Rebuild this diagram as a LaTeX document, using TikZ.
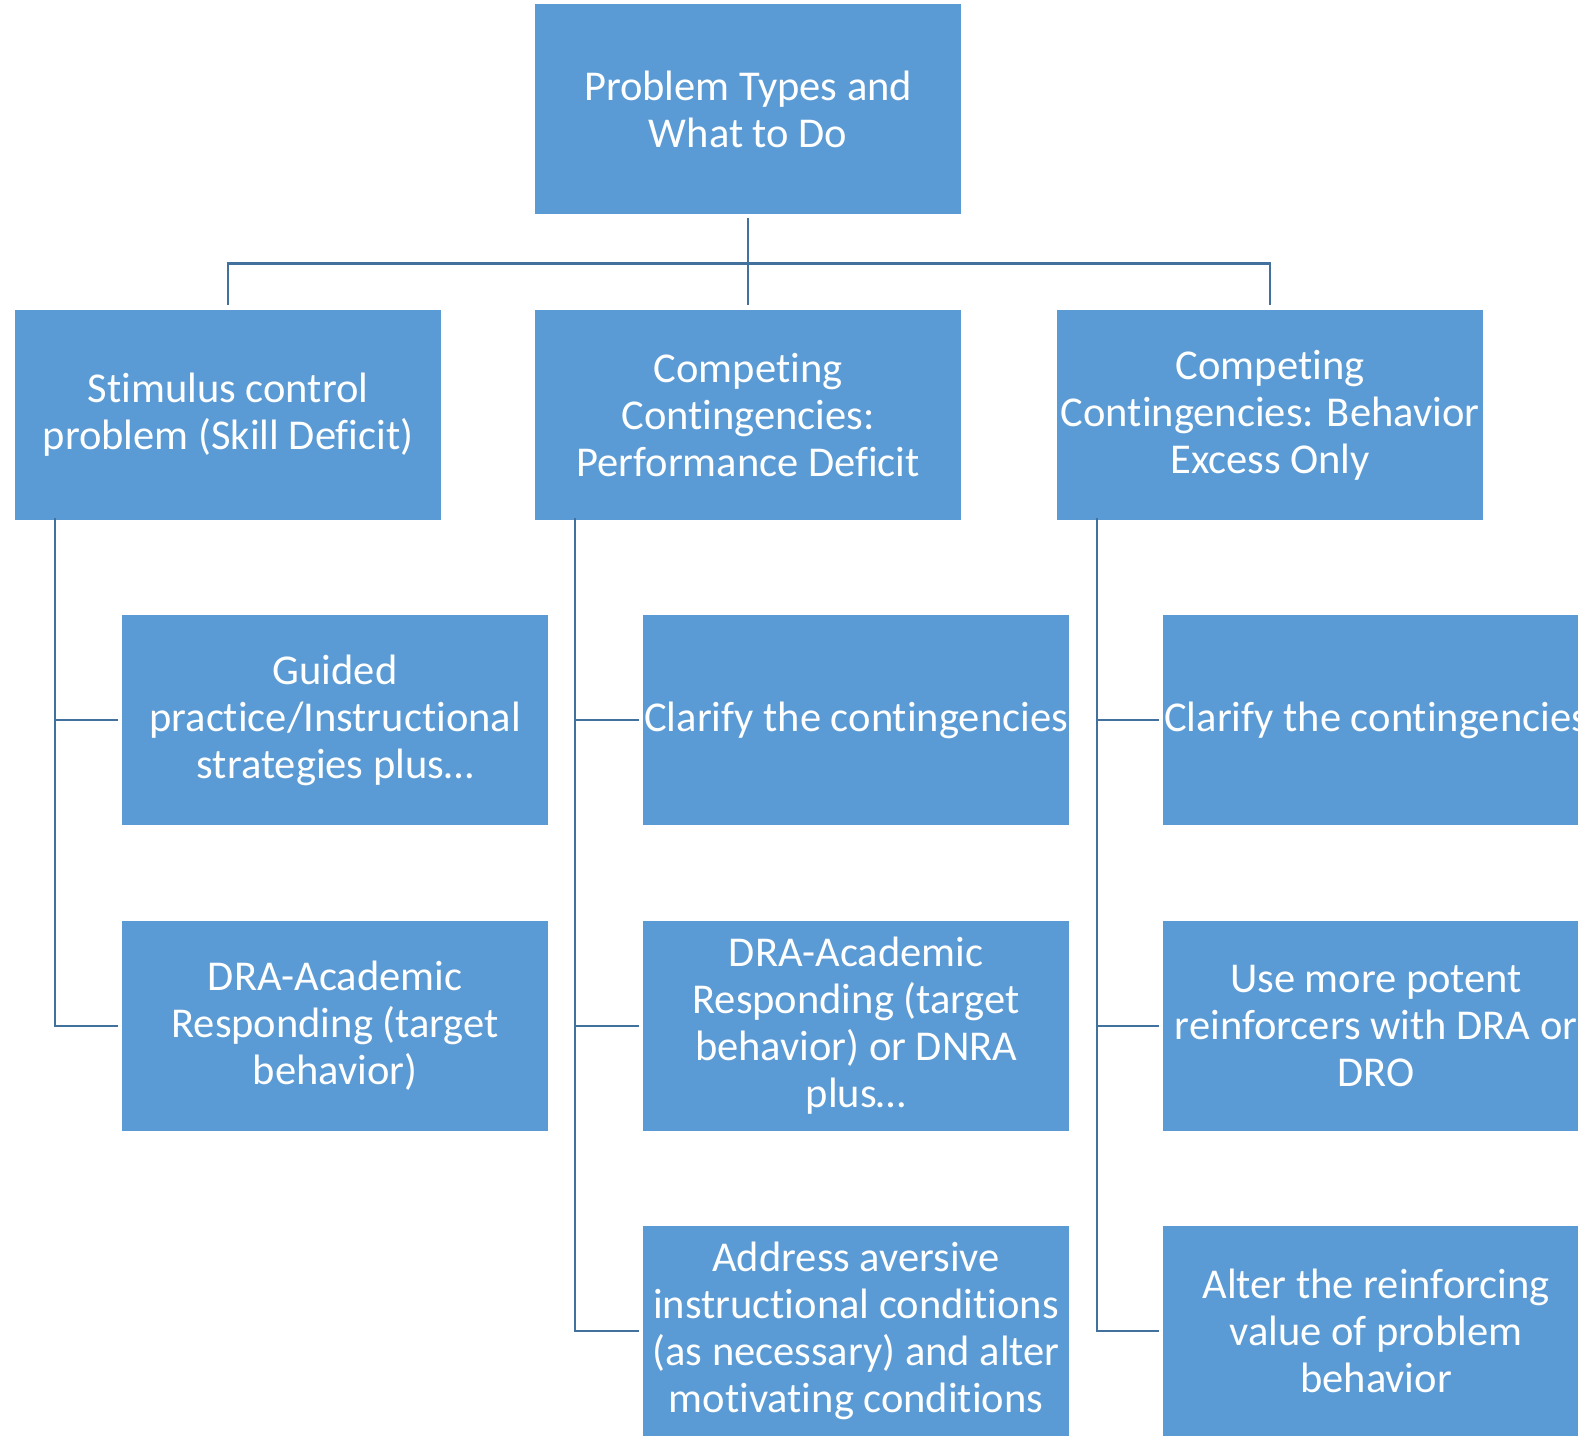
\documentclass[tikz,border=0pt]{standalone}
\usepackage{fontspec}
\setmainfont{Carlito}[Ligatures={NoCommon}]
\definecolor{boxblue}{HTML}{5B9BD5}
\definecolor{linkblue}{HTML}{41719C}
\begin{document}
\begin{tikzpicture}[x=1pt,y=-1pt,
  card/.style={fill=boxblue, draw=white, line width=1.2pt, text=white,
    minimum width=427pt, minimum height=211pt, anchor=north west,
    align=center, inner sep=0pt, font=\fontsize{42.5}{47}\selectfont},
  link/.style={draw=linkblue, line width=2.6pt},
]
\useasboundingbox (0,0) rectangle (1578,1440);
\clip (0,0) rectangle (1578,1440);

% top level
\node[card] (root) at (534,3) {Problem Types and\\What to Do};

% problem categories
\node[card] (stim) at (14,309) {Stimulus control\\problem (Skill Deficit)};
\node[card] (perf) at (534,309) {Competing\\Contingencies:\\Performance Deficit};
\node[card] (excess) at (1056,309) {Competing\\Contingencies: Behavior\\Excess Only};

% interventions, skill deficit
\node[card] (s1) at (121,614) {Guided\\practice/Instructional\\strategies plus\dots};
\node[card] (s2) at (121,920) {DRA-Academic\\Responding (target\\behavior)};

% interventions, performance deficit
\node[card] (p1) at (642,614) {Clarify the contingencies};
\node[card] (p2) at (642,920) {DRA-Academic\\Responding (target\\behavior) or DNRA\\plus\dots};
\node[card] (p3) at (642,1225) {Address aversive\\instructional conditions\\(as necessary) and alter\\motivating conditions};

% interventions, behavior excess
\node[card] (e1) at (1162,614) {Clarify the contingencies};
\node[card] (e2) at (1162,920) {Use more potent\\reinforcers with DRA or\\DRO};
\node[card] (e3) at (1162,1225) {Alter the reinforcing\\value of problem\\behavior};

% tree from the top box
\draw[link, shorten <=3pt, shorten >=4pt] (root.south) -- ++(0,48) -| (stim.north);
\draw[link, shorten <=3pt, shorten >=4pt] (root.south) -- (perf.north);
\draw[link, shorten <=3pt, shorten >=4pt] (root.south) -- ++(0,48) -| (excess.north);

% trunks to the interventions
\foreach \p/\a/\b/\c in {stim/s1/s2/s2, perf/p1/p2/p3, excess/e1/e2/e3}{
  \coordinate (\p-top) at ([xshift=41pt,yshift=3pt]\p.south west);
  \draw[link, shorten >=3pt] (\p-top) |- (\a.west);
  \draw[link, shorten >=3pt] (\p-top) |- (\b.west);
  \draw[link, shorten >=3pt] (\p-top) |- (\c.west);
}
\end{tikzpicture}
\end{document}
